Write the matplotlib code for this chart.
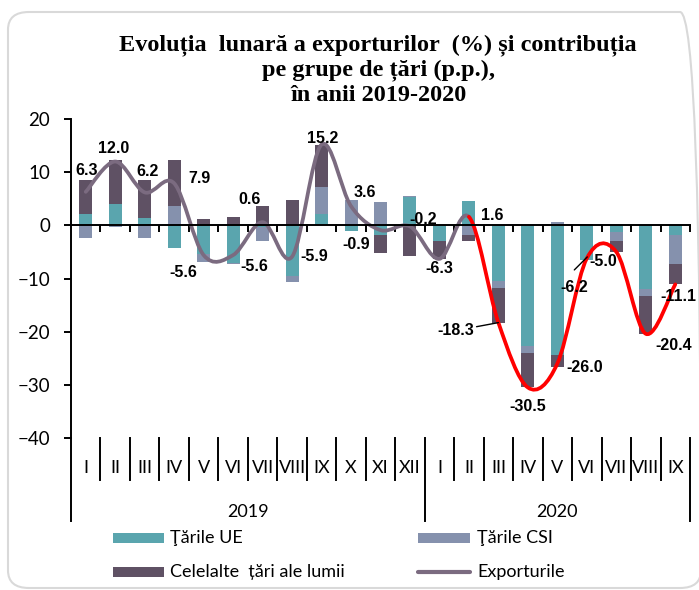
import numpy as np
import matplotlib
matplotlib.use('Agg')
import matplotlib.pyplot as plt
from matplotlib.path import Path
from matplotlib.patches import PathPatch, Rectangle, FancyBboxPatch
from matplotlib.lines import Line2D
from matplotlib.transforms import offset_copy

# ---------------- data ----------------
months = ['I', 'II', 'III', 'IV', 'V', 'VI', 'VII', 'VIII', 'IX', 'X', 'XI', 'XII',
          'I', 'II', 'III', 'IV', 'V', 'VI', 'VII', 'VIII', 'IX']
years = ['2019', '2020']
year_months = [12, 9]
eu = [2.1, 4.0, 1.3, -4.3, -5.4, -7.1, -0.3, -9.5, 2.1, -1.1, -1.9, 5.4,
      -2.9, 4.6, -10.4, -22.7, -24.3, -6.5, -1.2, -12.0, -1.8]
csi = [-2.3, -0.3, -2.3, 3.6, -1.5, -0.1, -2.7, -1.2, 5.1, 4.7, 4.3, 0.2,
       0.0, -1.9, -1.4, -1.4, 0.7, 0.0, -1.7, -1.2, -5.4]
other = [6.5, 8.3, 7.2, 8.6, 1.2, 1.6, 3.6, 4.7, 8.0, 0.0, -3.3, -5.8,
         -3.4, -1.1, -6.5, -6.4, -2.4, 0.3, -2.2, -7.2, -3.9]
exports = [6.3, 12.0, 6.2, 7.9, -5.6, -5.6, 0.6, -5.9, 15.2, 3.6, -0.9, -0.2,
           -6.3, 1.6, -18.3, -30.5, -26.0, -6.2, -5.0, -20.4, -11.1]
series_names = ['Ţările UE', 'Ţările CSI', 'Celelalte  țări ale lumii', 'Exporturile']
title = 'Evoluția  lunară a exporturilor  (%) și contribuția\npe grupe de țări (p.p.),\nîn anii 2019-2020'

# ---------------- style ----------------
c_eu = '#5aa5ae'
c_csi = '#8591ad'
c_oth = '#5f5164'
c_line = '#7b6b80'
c_red = '#ff0000'
sans = ['Lato', 'DejaVu Sans']
lbl_font = ['Liberation Sans', 'DejaVu Sans']
label_offsets = [(1, 21), (-2, 13), (3, 21), (25, 5), (-20, -17), (21, -11), (-13, 23),
                 (22, 0), (1, 6), (14, 14), (-24, -14), (13, 7), (0, -10), (23, 1),
                 (-43, -8), (0, -19), (27, -4), (-13, -29), (-13, -10), (28, -12), (3, -12)]
red_start = 13

W, H = 699, 590
fig = plt.figure(figsize=(W / 100, H / 100), dpi=100)
fig.patch.set_facecolor('white')

# rounded frame
fig.add_artist(FancyBboxPatch((8 / W, 1 - 588 / H), (701 - 8) / W, (588 - 12) / H,
                              boxstyle='round,pad=0,rounding_size=0.03',
                              transform=fig.transFigure, facecolor='none',
                              edgecolor='#d9d9d9', linewidth=1.5, clip_on=False))

ax = fig.add_axes([71 / W, 1 - 438 / H, (690 - 71) / W, (438 - 119) / H])
ax.set_facecolor('none')
n = len(months)
x = np.arange(n)
ax.set_xlim(-0.5, n - 0.5)
ax.set_ylim(-40, 20)

# stacked bars (positives up, negatives down)
pos_base = np.zeros(n)
neg_base = np.zeros(n)
for vals, col in [(eu, c_eu), (csi, c_csi), (other, c_oth)]:
    v = np.array(vals, dtype=float)
    bottom = np.where(v >= 0, pos_base, neg_base)
    ax.bar(x, v, width=0.44, bottom=bottom, color=col, zorder=2, linewidth=0)
    pos_base += np.where(v > 0, v, 0)
    neg_base += np.where(v < 0, v, 0)

# smoothed line (cubic Bezier through the points)
P = np.column_stack([x, np.array(exports, dtype=float)])


def smooth_path(i0, i1):
    verts = [P[i0]]
    codes = [Path.MOVETO]
    for i in range(i0, i1):
        pm = P[max(i - 1, 0)]
        p0 = P[i]
        p1 = P[i + 1]
        p2 = P[min(i + 2, len(P) - 1)]
        c1 = p0 + (p1 - pm) / 6.0
        c2 = p1 - (p2 - p0) / 6.0
        verts += [c1, c2, p1]
        codes += [Path.CURVE4] * 3
    return Path(verts, codes)


ax.add_patch(PathPatch(smooth_path(0, red_start), fill=False, edgecolor=c_line,
                       linewidth=2.7, capstyle='round', joinstyle='round', zorder=3))
ax.add_patch(PathPatch(smooth_path(red_start, n - 1), fill=False, edgecolor=c_red,
                       linewidth=2.7, capstyle='round', joinstyle='round', zorder=3))

# data labels
for i, (v, off) in enumerate(zip(exports, label_offsets)):
    kw = {}
    if i == 14:
        kw['arrowprops'] = dict(arrowstyle='-', color='black', lw=1.0, shrinkA=0, shrinkB=0)
    ax.annotate(f'{v:.1f}', xy=(i, v), xytext=off, textcoords='offset pixels',
                ha='center', va='center', fontsize=11.5, fontweight='bold',
                family=lbl_font, color='black', zorder=5, **kw)
# leader line near -5.0
ax.annotate('', xy=(18, exports[18]),
            xycoords=offset_copy(ax.transData, fig=fig, x=-29, y=-5, units='dots'),
            xytext=(-13, -13), textcoords='offset pixels',
            arrowprops=dict(arrowstyle='-', color='black', lw=1.0, shrinkA=0, shrinkB=0))

# axes styling
for s in ['top', 'right']:
    ax.spines[s].set_visible(False)
ax.spines['bottom'].set_position(('data', 0))
ax.spines['bottom'].set_linewidth(1.4)
ax.spines['left'].set_linewidth(1.4)
ax.spines['bottom'].set_zorder(4)
ax.set_xticks(np.arange(0.5, n, 1.0))
ax.set_xticklabels([])
ax.tick_params(axis='x', direction='out', length=5, width=1.4)
ax.set_yticks(np.arange(-40, 21, 10))
ax.tick_params(axis='y', direction='out', length=5, width=1.4, pad=10, labelsize=13.5)
for t in ax.get_yticklabels():
    t.set_family(sans)

# multi-level category axis
xt = ax.get_xaxis_transform()
ph = 438 - 119
y_month = -(468 - 438) / ph
y_year = -(512 - 438) / ph
y_short = -(480 - 438) / ph
y_long = -(521 - 438) / ph
for i, m in enumerate(months):
    ax.text(i, y_month, m, transform=xt, ha='center', va='center', fontsize=13,
            family=sans, clip_on=False)
start = 0
boundaries_long = [-0.5]
for yr, cnt in zip(years, year_months):
    ax.text(start - 0.5 + cnt / 2, y_year, yr, transform=xt, ha='center', va='center',
            fontsize=13, family=sans, clip_on=False)
    start += cnt
    boundaries_long.append(start - 0.5)
for b in np.arange(-0.5, n, 1.0):
    y_end = y_long if any(abs(b - bl) < 1e-6 for bl in boundaries_long) else y_short
    ax.add_line(Line2D([b, b], [0, y_end], transform=xt, color='black', lw=1.4,
                       clip_on=False))

# legend (manual, two columns)
def fy(py):
    return 1 - py / H


fig.add_artist(Rectangle((113 / W, fy(543)), 51 / W, 10 / H, transform=fig.transFigure,
                         facecolor=c_eu, edgecolor='none'))
fig.add_artist(Rectangle((113 / W, fy(577)), 51 / W, 10 / H, transform=fig.transFigure,
                         facecolor=c_oth, edgecolor='none'))
fig.add_artist(Rectangle((418 / W, fy(543)), 52 / W, 10 / H, transform=fig.transFigure,
                         facecolor=c_csi, edgecolor='none'))
fig.add_artist(Line2D([418 / W, 470 / W], [fy(572), fy(572)], transform=fig.transFigure,
                      color=c_line, lw=3, solid_capstyle='round'))
fig.text(170 / W, fy(538), series_names[0], ha='left', va='center', fontsize=13, family=sans)
fig.text(170 / W, fy(572), series_names[2], ha='left', va='center', fontsize=13, family=sans)
fig.text(477 / W, fy(538), series_names[1], ha='left', va='center', fontsize=13, family=sans)
fig.text(477 / W, fy(572), series_names[3], ha='left', va='center', fontsize=13, family=sans)

# title
fig.text(378 / W, fy(70), title, ha='center', va='center', fontsize=17.5, fontweight='bold',
         family=['Liberation Serif', 'DejaVu Serif'], linespacing=1.2)

fig.savefig('out.png', dpi=100)
